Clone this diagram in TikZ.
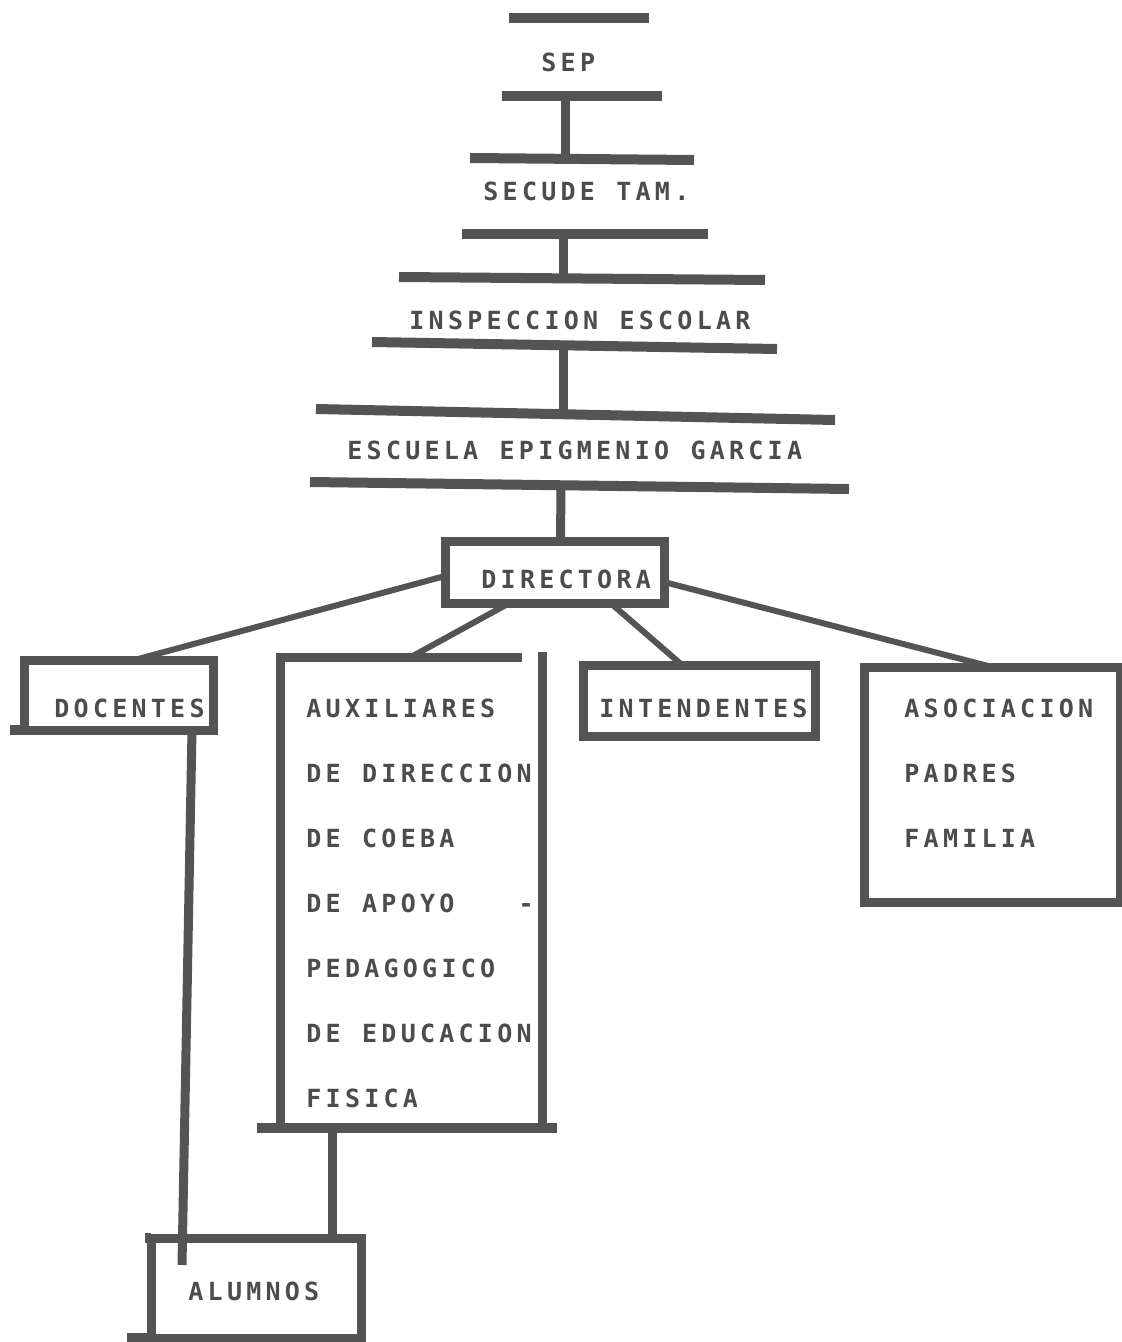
\documentclass[tikz,border=0pt]{standalone}
\usepackage{fontspec}
\usepackage{tikz}
\newfontfamily\dotfont[LetterSpace=17.0, WordSpace=1.11]{DejaVu Sans Mono Bold}
\definecolor{ink}{RGB}{84,84,84}
\definecolor{typeink}{RGB}{76,76,76}
\tikzset{bar/.style={draw=ink, line width=5pt}}
\tikzset{link/.style={draw=ink, line width=4.5pt}}
\tikzset{slant/.style={draw=ink, line width=3pt}}
\tikzset{frame/.style={draw=ink, line width=4.5pt, rectangle, inner sep=0pt, outer sep=0pt}}
\tikzset{typed/.style={font={\dotfont\fontsize{12.5pt}{15pt}\selectfont}, text=typeink, inner sep=0pt, anchor=west}}

\begin{document}
\begin{tikzpicture}[x=0.5pt, y=-0.5pt]
            \useasboundingbox (0,0) rectangle (1122,1342);
            \draw[bar] (509,18) -- (649,18);
            \node[typed] (sep) at (541,62) {SEP};
            \draw[bar] (502,96) -- (662,96);
            \draw[bar] (470,158) -- (694,160);
            \node[typed] (secude) at (483,191) {SECUDE TAM.};
            \draw[bar] (462,234) -- (708,234);
            \draw[bar] (399,277) -- (765,280);
            \node[typed] (inspeccion) at (409,320) {INSPECCION ESCOLAR};
            \draw[bar] (372,342) -- (777,349);
            \draw[bar] (316,409) -- (835,420);
            \node[typed] (escuela) at (347,450) {ESCUELA EPIGMENIO GARCIA};
            \draw[bar] (310,482) -- (849,489);
            \coordinate (sepB) at (565,96);
            \coordinate (secT) at (565,159);
            \coordinate (secB) at (563,234);
            \coordinate (insT) at (563,278);
            \coordinate (insB) at (563,345);
            \coordinate (escT) at (563,414);
            \coordinate (escB) at (561,485);
            \draw[link] (sepB) -- (secT);
            \draw[link] (secB) -- (insT);
            \draw[link] (insB) -- (escT);

            \node[frame, minimum width=109.5pt, minimum height=31pt] (directora) at (554.5,572) {};
            \node[typed] (directoraT) at (481,579) {DIRECTORA};
            \draw[link] (escB) -- ([xshift=3pt]directora.north);

            \node[frame, minimum width=94.5pt, minimum height=35pt] (docentes) at (118.5,695) {};
            \node[typed] (docentesT) at (54,708) {DOCENTES};
            \draw[bar] ([xshift=-7pt]docentes.south west) -- (docentes.south west);

            \node[minimum width=131pt, minimum height=235.5pt, inner sep=0pt, outer sep=0pt] (auxiliares) at (411,892.5) {};
            \draw[link] ([xshift=-10pt]auxiliares.north east) -| (auxiliares.south west);
            \draw[link] ([yshift=2.5pt]auxiliares.north east) -- ([yshift=2.5pt]auxiliares.south east);
            \draw[bar] ([xshift=-11.5pt]auxiliares.south west) -- ([xshift=7.5pt]auxiliares.south east);
            \foreach \row [count=\k from 0] in {AUXILIARES, DE DIRECCION, DE COEBA, DE APOYO\ \ \ -, PEDAGOGICO, DE EDUCACION, FISICA}
                \node[typed] (aux\k) at (306,{708+65*\k}) {\row};

            \node[frame, minimum width=116pt, minimum height=35.5pt] (intendentes) at (699,700.5) {};
            \node[typed] (intendentesT) at (599,708) {INTENDENTES};

            \node[frame, minimum width=128pt, minimum height=117.5pt] (asociacion) at (992,784.5) {};
            \foreach \row [count=\k from 0] in {ASOCIACION, PADRES, FAMILIA}
                \node[typed] (asoc\k) at (904,{708+65*\k}) {\row};

            \node[frame, minimum width=105pt, minimum height=50pt] (alumnos) at (256,1288) {};
            \node[typed] (alumnosT) at (188,1291) {ALUMNOS};
            \draw[bar] ([xshift=-12pt]alumnos.south west) -- (alumnos.south west);
            \draw[bar] ([xshift=-3pt]alumnos.north west) -- (alumnos.north west);

            \draw[slant] ([yshift=-2pt]directora.west) -- ([xshift=8pt]docentes.north);
            \draw[slant] ([xshift=-22.5pt]directora.south) -- (auxiliares.north);
            \draw[slant] ([xshift=28pt]directora.south) -- ([xshift=-8.5pt]intendentes.north);
            \draw[slant] ([yshift=-5pt]directora.east) -- (asociacion.north);
            \draw[link] ([xshift=36.75pt]docentes.south) -- ([xshift=-37pt,yshift=-13.5pt]alumnos.north);
            \draw[link] ([xshift=-39.5pt]auxiliares.south) -- ([xshift=38pt]alumnos.north);
        \end{tikzpicture}
\end{document}
